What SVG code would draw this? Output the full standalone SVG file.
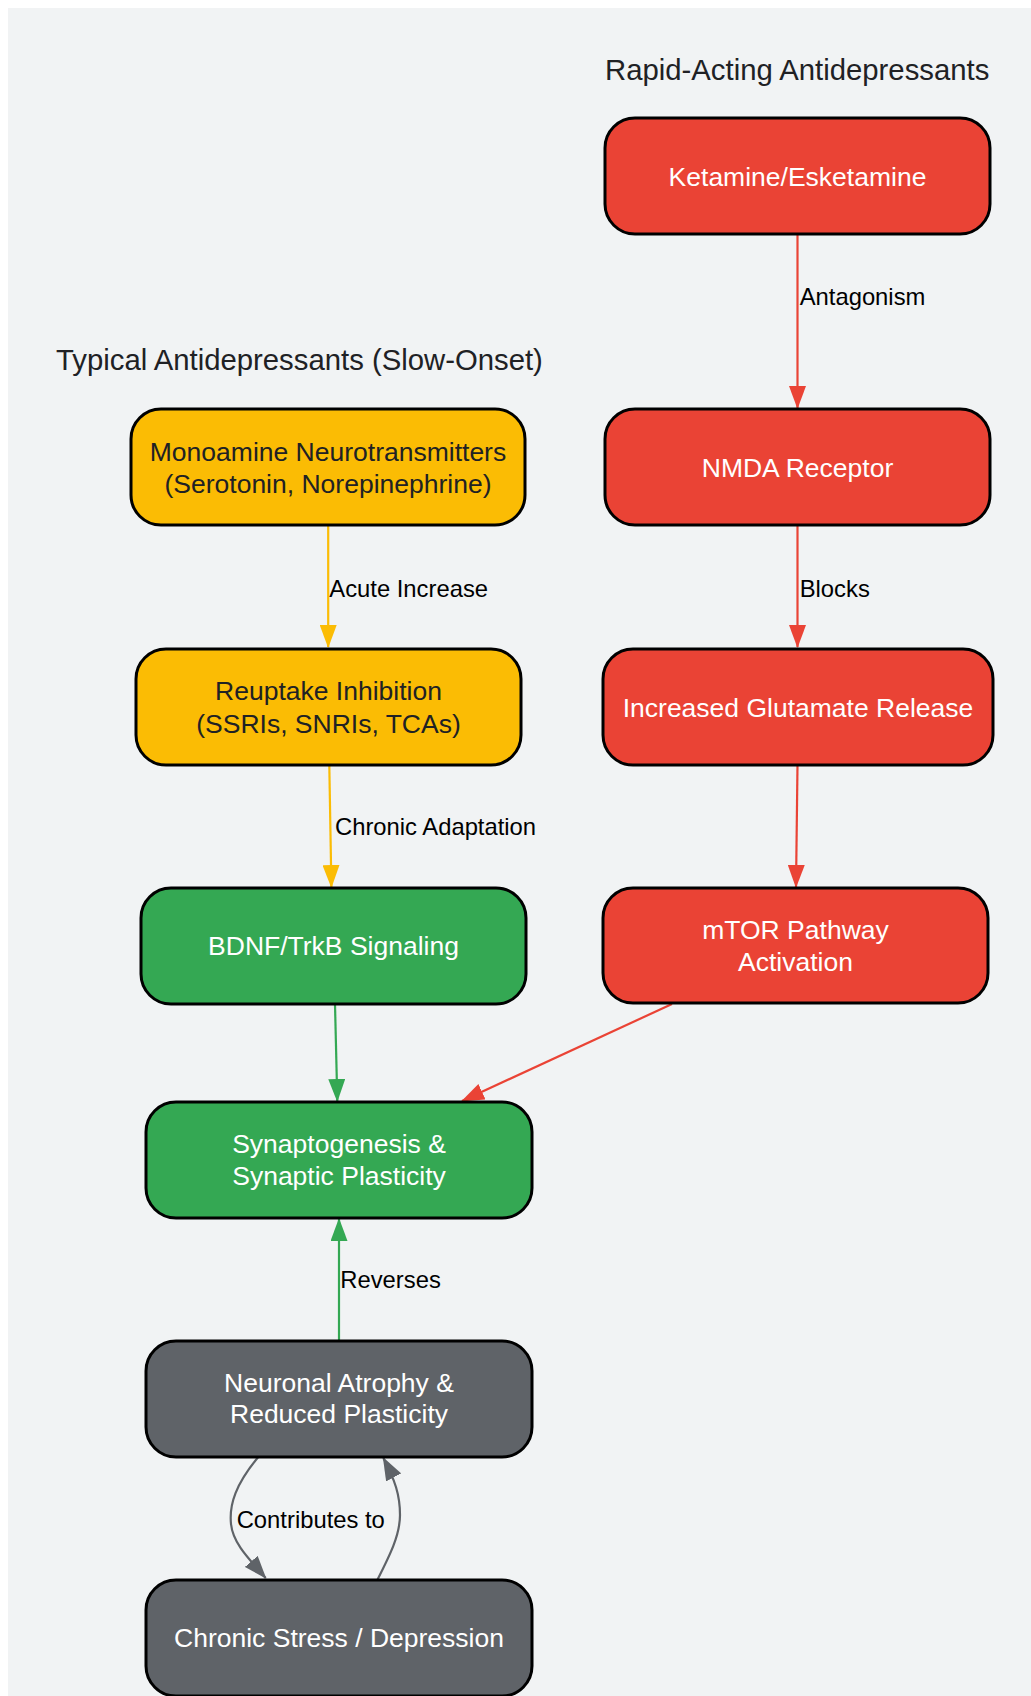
<svg xmlns="http://www.w3.org/2000/svg" width="1031" height="1696" viewBox="0 0 1031 1696">
<style>
.node rect{stroke:#000;stroke-width:3}
.red rect{fill:#EA4335}.yel rect{fill:#FBBC04}.grn rect{fill:#34A853}.gry rect{fill:#5F6368}
.nt{font-family:"Liberation Sans",Arial,sans-serif;font-size:26.5px;text-anchor:middle;fill:#fff}
.yel .nt{fill:#202124}
.title{font-family:"Liberation Sans",Arial,sans-serif;font-size:29.3px;fill:#202124}
.el{font-family:"Liberation Sans",Arial,sans-serif;font-size:23.8px;fill:#000}
.edge{fill:none;stroke-width:2.2}
.er{stroke:#EA4335}.ey{stroke:#FBBC04}.eg{stroke:#34A853}.ea{stroke:#5F6368}
</style>
<defs>
<marker id="mr" viewBox="0 0 23 17" refX="22" refY="8.5" markerWidth="23" markerHeight="17" markerUnits="userSpaceOnUse" orient="auto"><path d="M0,0 L23,8.5 L0,17 z" fill="#EA4335"/></marker>
<marker id="my" viewBox="0 0 23 17" refX="22" refY="8.5" markerWidth="23" markerHeight="17" markerUnits="userSpaceOnUse" orient="auto"><path d="M0,0 L23,8.5 L0,17 z" fill="#FBBC04"/></marker>
<marker id="mg" viewBox="0 0 23 17" refX="22" refY="8.5" markerWidth="23" markerHeight="17" markerUnits="userSpaceOnUse" orient="auto"><path d="M0,0 L23,8.5 L0,17 z" fill="#34A853"/></marker>
<marker id="ma" viewBox="0 0 23 17" refX="22" refY="8.5" markerWidth="23" markerHeight="17" markerUnits="userSpaceOnUse" orient="auto"><path d="M0,0 L23,8.5 L0,17 z" fill="#5F6368"/></marker>
</defs>
<rect x="0" y="0" width="1031" height="1696" fill="#fff"/>
<rect x="8" y="8" width="1030" height="1700" fill="#F1F3F4"/>
<text class="title" x="605" y="80">Rapid-Acting Antidepressants</text>
<text class="title" x="56" y="370">Typical Antidepressants (Slow-Onset)</text>
<g id="connectors">
<path class="edge er" d="M797.5,234 L797.5,408" marker-end="url(#mr)"/>
<path class="edge er" d="M797.5,525 L797.5,647" marker-end="url(#mr)"/>
<path class="edge er" d="M797.5,765 L796,887" marker-end="url(#mr)"/>
<path class="edge ey" d="M328.2,525 L328.2,647" marker-end="url(#my)"/>
<path class="edge ey" d="M329.3,765 L331.4,887" marker-end="url(#my)"/>
<path class="edge eg" d="M335,1004 L337.3,1101" marker-end="url(#mg)"/>
<path class="edge er" d="M672,1004 L462,1101" marker-end="url(#mr)"/>
<path class="edge eg" d="M339,1341 L339,1219" marker-end="url(#mg)"/>
<path class="edge ea" d="M258.3,1457 C236,1484 229,1504 231,1524 C233,1544 250,1560 265.7,1578" marker-end="url(#ma)"/>
<path class="edge ea" d="M377.3,1580 C390,1555 400,1535 400,1515 C400,1495 395,1480 383.3,1458" marker-end="url(#ma)"/>
<text class="el" x="799.7" y="305">Antagonism</text>
<text class="el" x="799.7" y="596.7">Blocks</text>
<text class="el" x="329.3" y="596.8">Acute Increase</text>
<text class="el" x="335" y="835.4">Chronic Adaptation</text>
<text class="el" x="340.3" y="1288">Reverses</text>
<text class="el" x="236.7" y="1528.3">Contributes to</text>
</g>
<g id="ketamine" class="node red"><rect x="605" y="118" width="385" height="116" rx="30"/><text class="nt" x="797.5" y="186">Ketamine/Esketamine</text></g>
<g id="nmda" class="node red"><rect x="605" y="409" width="385" height="116" rx="30"/><text class="nt" x="797.5" y="477">NMDA Receptor</text></g>
<g id="glutamate" class="node red"><rect x="603" y="649" width="390" height="116" rx="30"/><text class="nt" x="798" y="716.7">Increased Glutamate Release</text></g>
<g id="mtor" class="node red"><rect x="603" y="888" width="385" height="115" rx="30"/><text class="nt" x="795.5" y="939.3">mTOR Pathway</text><text class="nt" x="795.5" y="970.7">Activation</text></g>
<g id="monoamine" class="node yel"><rect x="131" y="409" width="394" height="116" rx="30"/><text class="nt" x="328" y="461">Monoamine Neurotransmitters</text><text class="nt" x="328" y="493">(Serotonin, Norepinephrine)</text></g>
<g id="reuptake" class="node yel"><rect x="136" y="649" width="385" height="116" rx="30"/><text class="nt" x="328.5" y="700.4">Reuptake Inhibition</text><text class="nt" x="328.5" y="732.5">(SSRIs, SNRIs, TCAs)</text></g>
<g id="bdnf" class="node grn"><rect x="141" y="888" width="385" height="116" rx="30"/><text class="nt" x="333.5" y="955">BDNF/TrkB Signaling</text></g>
<g id="synaptogenesis" class="node grn"><rect x="146" y="1102" width="386" height="116" rx="30"/><text class="nt" x="339" y="1152.8">Synaptogenesis &amp;</text><text class="nt" x="339" y="1184.5">Synaptic Plasticity</text></g>
<g id="atrophy" class="node gry"><rect x="146" y="1341" width="386" height="116" rx="30"/><text class="nt" x="339" y="1392">Neuronal Atrophy &amp;</text><text class="nt" x="339" y="1423.3">Reduced Plasticity</text></g>
<g id="stress" class="node gry"><rect x="146" y="1580" width="386" height="116" rx="30"/><text class="nt" x="339" y="1647.3">Chronic Stress / Depression</text></g>
</svg>
